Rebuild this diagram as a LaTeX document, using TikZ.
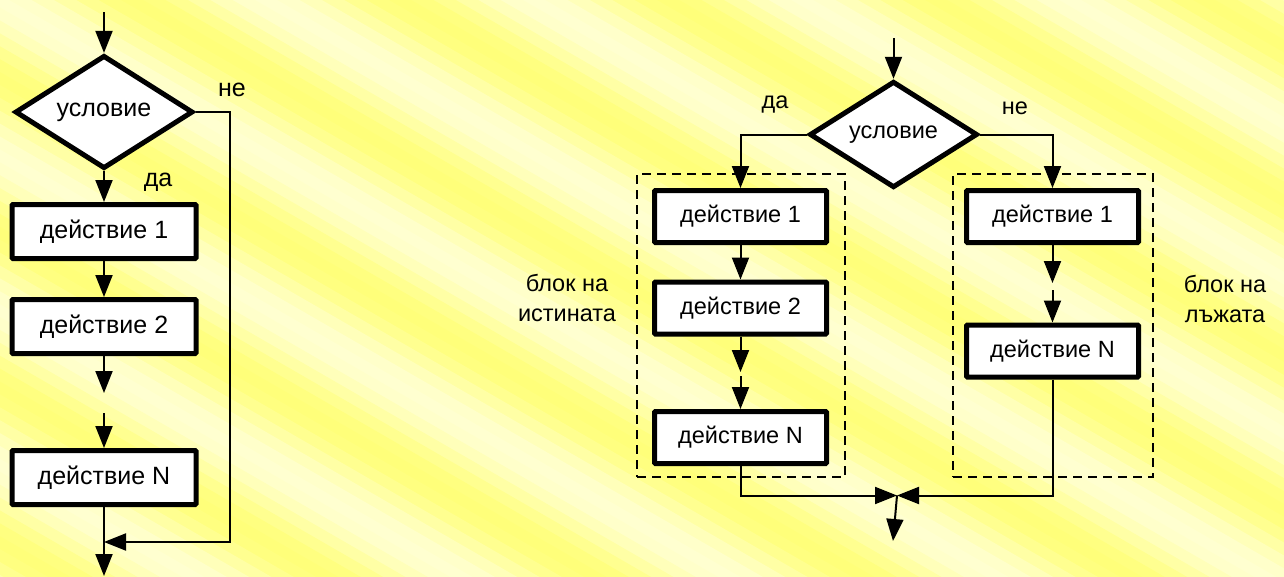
\documentclass[tikz,border=0pt]{standalone}
\usepackage{fontspec}
\setmainfont{Liberation Sans}
\usetikzlibrary{shapes.geometric,arrows.meta}

\definecolor{bandhi}{RGB}{255,255,122}
\definecolor{bandlo}{RGB}{255,255,208}

\tikzset{
  x=1pt, y=-1pt,
  bigtext/.style={font=\fontsize{25}{30}\selectfont},
  midtext/.style={font=\fontsize{23.5}{30}\selectfont},
  decision/.style={diamond, draw, fill=white, line width=5pt, inner sep=0pt, bigtext},
  action/.style={rectangle, draw, fill=white, line width=5pt, rounded corners=1pt, inner sep=0pt},
  flow/.style={line width=2pt, -{Triangle[length=22pt,width=17pt]}},
  group/.style={rectangle, draw, dash pattern=on 9pt off 6pt, line width=1.8pt, inner sep=0pt},
  note/.style={inner sep=0pt, align=center, midtext},
}

\begin{document}
\begin{tikzpicture}
\useasboundingbox (0,0) rectangle (1284,576);

% striped background
\begin{scope}
  \clip (0,0) rectangle (1284,576);
  \fill[bandlo] (0,0) rectangle (1284,576);
  \begin{scope}[shift={(642,288)}, rotate=-30]
    \foreach \k in {-6,...,5}{
      \foreach \j in {0,...,11}{
        \pgfmathsetmacro\pct{50+50*cos(30*\j)}
        \fill[bandhi!\pct!bandlo] (-900,{\k*134+\j*134/12}) rectangle (900,{\k*134+(\j+1)*134/12+0.6});
      }
    }
  \end{scope}
\end{scope}

% ---- left: if without else ----
\node[decision, minimum width=178pt, minimum height=102pt] (Lc) at (104,112) {условие};
\node[action, minimum width=184pt, minimum height=54pt, bigtext] (L1) at (104,231.5) {действие 1};
\node[action, minimum width=184pt, minimum height=54pt, bigtext] (L2) at (104,326.5) {действие 2};
\node[action, minimum width=184pt, minimum height=54pt, bigtext] (LN) at (104,477.5) {действие N};

\coordinate (Lin) at (104,12);
\coordinate (Lg1) at (104,393);
\coordinate (Lg2) at (104,413);
\coordinate (Lout) at (104,576);
\coordinate (Lr) at (230,542);
\coordinate (Lm) at (104,542);

\draw[flow] (Lin) -- (Lc.north);
\draw[flow] (Lc.south) -- (L1.north);
\draw[flow] (L1.south) -- (L2.north);
\draw[flow] (L2.south) -- (Lg1);
\draw[flow] (Lg2) -- (LN.north);
\draw[flow] (LN.south) -- (Lout);
\draw[flow] (Lc.east) -| (Lr) -- (Lm);

\node[bigtext, inner sep=0pt] (Lno) at (232,90) {не};
\node[bigtext, inner sep=0pt] (Lyes) at (158,182) {да};

% ---- right: if with else ----
\node[group, minimum width=208pt, minimum height=303pt] (Tblk) at (741,325.5) {};
\node[group, minimum width=200pt, minimum height=303pt] (Fblk) at (1053,325.5) {};

\node[decision, minimum width=168pt, minimum height=99pt, midtext] (Rc) at (893.5,134.5) {условие};
\node[action, minimum width=172pt, minimum height=52pt, midtext] (R1) at (740.5,216.5) {действие 1};
\node[action, minimum width=172pt, minimum height=52pt, midtext] (R2) at (740.5,308) {действие 2};
\node[action, minimum width=172pt, minimum height=52pt, midtext] (RN) at (740.5,437.5) {действие N};
\node[action, minimum width=172pt, minimum height=52pt, midtext] (S1) at (1052.5,216.5) {действие 1};
\node[action, minimum width=172pt, minimum height=52pt, midtext] (SN) at (1052.5,351) {действие N};

\coordinate (Rin) at (893.5,38);
\coordinate (Rg1) at (740.5,372);
\coordinate (Rg2) at (740.5,376);
\coordinate (Sg1) at (1052.5,283);
\coordinate (Sg2) at (1052.5,290);
\coordinate (J) at (897,495.5);
\coordinate (Rout) at (893,541);

\draw[flow] (Rin) -- (Rc.north);
\draw[flow] (Rc.west) -| (R1.north);
\draw[flow] (Rc.east) -| (S1.north);
\draw[flow] (R1.south) -- (R2.north);
\draw[flow] (R2.south) -- (Rg1);
\draw[flow] (Rg2) -- (RN.north);
\draw[flow] (S1.south) -- (Sg1);
\draw[flow] (Sg2) -- (SN.north);
\draw[flow] (RN.south) |- (J);
\draw[flow] (SN.south) |- (J);
\draw[flow] (J) -- (Rout);

\node[midtext, inner sep=0pt] (Ryes) at (775,105) {да};
\node[midtext, inner sep=0pt] (Rno) at (1015,108) {не};
\node[note] (Tnote) at (567,298) {блок на\\истината};
\node[note] (Fnote) at (1225,299) {блок на\\лъжата};

\end{tikzpicture}
\end{document}
